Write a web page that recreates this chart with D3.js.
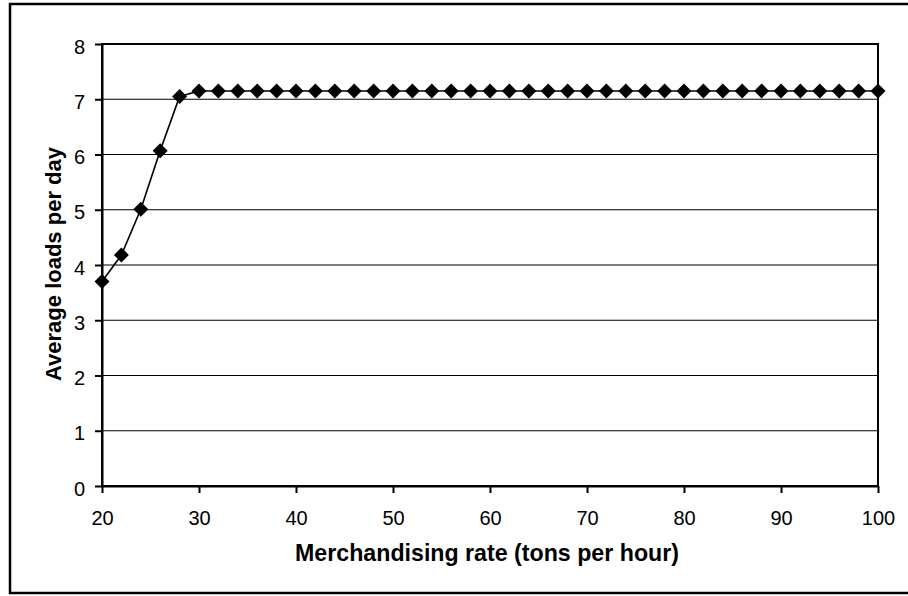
<!DOCTYPE html>
<html>
<head>
<meta charset="utf-8">
<script src="https://cdn.jsdelivr.net/npm/d3@7"></script>
<style>
  html, body { margin: 0; padding: 0; background: #fff; }
  svg { display: block; font-family: "Liberation Sans", Arial, sans-serif; }
</style>
</head>
<body>
<svg id="chart" width="908" height="596"></svg>
<script>
// Merchandising rate (tons per hour), every 2 t/h from 20 to 100
const rates = [20, 22, 24, 26, 28, 30, 32, 34, 36, 38, 40, 42, 44, 46, 48, 50,
  52, 54, 56, 58, 60, 62, 64, 66, 68, 70, 72, 74, 76, 78, 80, 82, 84, 86, 88,
  90, 92, 94, 96, 98, 100];
// Average loads per day at each rate
const loads = [3.70, 4.18, 5.01, 6.07, 7.05, 7.15, 7.15, 7.15, 7.15, 7.15, 7.15,
  7.15, 7.15, 7.15, 7.15, 7.15, 7.15, 7.15, 7.15, 7.15, 7.15, 7.15, 7.15, 7.15,
  7.15, 7.15, 7.15, 7.15, 7.15, 7.15, 7.15, 7.15, 7.15, 7.15, 7.15, 7.15, 7.15,
  7.15, 7.15, 7.15, 7.15];
const xTicks = [20, 30, 40, 50, 60, 70, 80, 90, 100];
const yTicks = [0, 1, 2, 3, 4, 5, 6, 7, 8];
const xTitle = "Merchandising rate (tons per hour)";
const yTitle = "Average loads per day";

const svg = d3.select("#chart");
const plot = { left: 102, right: 878, top: 44, bottom: 486 };

// Outer chart frame
svg.append("rect")
  .attr("x", 10).attr("y", 4)
  .attr("width", 905).attr("height", 589)
  .attr("fill", "#fff").attr("stroke", "#000").attr("stroke-width", 2.5);

const x = d3.scaleLinear().domain([20, 100]).range([plot.left, plot.right]);
const y = d3.scaleLinear().domain([0, 8]).range([plot.bottom, plot.top]);

// Horizontal gridlines
svg.append("g")
  .selectAll("line")
  .data(yTicks)
  .join("line")
  .attr("x1", plot.left).attr("x2", plot.right)
  .attr("y1", d => y(d)).attr("y2", d => y(d))
  .attr("stroke", "#000").attr("stroke-width", 1.2);

// Plot area border
svg.append("rect")
  .attr("x", plot.left).attr("y", plot.top)
  .attr("width", plot.right - plot.left).attr("height", plot.bottom - plot.top)
  .attr("fill", "none").attr("stroke", "#000").attr("stroke-width", 2);

// Axes
const xAxis = svg.append("g")
  .attr("transform", `translate(0,${plot.bottom})`)
  .call(d3.axisBottom(x).tickValues(xTicks).tickSize(7).tickPadding(18).tickSizeOuter(0));
const yAxis = svg.append("g")
  .attr("transform", `translate(${plot.left},0)`)
  .call(d3.axisLeft(y).tickValues(yTicks).tickSize(7).tickPadding(10).tickSizeOuter(0));

[xAxis, yAxis].forEach(g => {
  g.attr("font-size", null).attr("font-family", null);
  g.select(".domain").attr("stroke", "#000").attr("stroke-width", 2);
  g.selectAll(".tick line").attr("stroke", "#000").attr("stroke-width", 2);
  g.selectAll(".tick text")
    .attr("fill", "#000")
    .style("font-size", "20px")
    .style("font-family", "'Liberation Sans', Arial, sans-serif");
});
yAxis.selectAll(".tick text").attr("dy", "0.45em");

// Series line
const points = rates.map((r, i) => [r, loads[i]]);
svg.append("path")
  .datum(points)
  .attr("fill", "none")
  .attr("stroke", "#000")
  .attr("stroke-width", 1.6)
  .attr("d", d3.line().x(d => x(d[0])).y(d => y(d[1])));

// Diamond markers
svg.append("g")
  .selectAll("path")
  .data(points)
  .join("path")
  .attr("transform", d => `translate(${x(d[0])},${y(d[1])})`)
  .attr("d", "M0,-7.5L7.5,0L0,7.5L-7.5,0Z")
  .attr("fill", "#000");

// Axis titles
svg.append("text")
  .attr("x", 487)
  .attr("y", 561)
  .attr("text-anchor", "middle")
  .style("font-size", "23.2px")
  .style("font-weight", "bold")
  .text(xTitle);

svg.append("text")
  .attr("transform", `translate(61,${(plot.top + plot.bottom) / 2 - 1}) rotate(-90)`)
  .attr("text-anchor", "middle")
  .style("font-size", "22px")
  .style("font-weight", "bold")
  .text(yTitle);
</script>
</body>
</html>
